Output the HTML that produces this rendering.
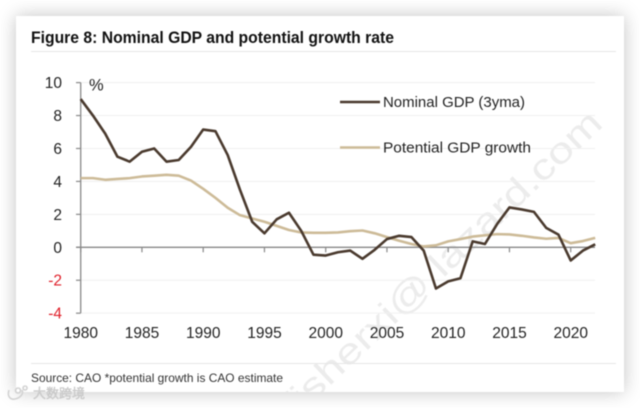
<!DOCTYPE html>
<html lang="en">
<head>
<meta charset="utf-8">
<title>Figure 8: Nominal GDP and potential growth rate</title>
<style>
html,body{margin:0;padding:0;width:640px;height:408px;background:#fff;overflow:hidden}
svg{display:block;font-family:"Liberation Sans","Noto Sans CJK SC",sans-serif;filter:blur(0.4px)}
</style>
</head>
<body>
<svg id="chart" width="640" height="408" viewBox="0 0 640 408" xmlns="http://www.w3.org/2000/svg">
  <defs>
    <filter id="shadow" x="-10%" y="-10%" width="120%" height="120%">
      <feDropShadow dx="0" dy="0" stdDeviation="9" flood-color="#000" flood-opacity="0.24"/>
    </filter>
    <clipPath id="card-clip"><rect x="16" y="16" width="608" height="376"/></clipPath>
  </defs>
  <rect x="16" y="16" width="608" height="376" fill="#fff" filter="url(#shadow)"/>
  <text x="31" y="43" font-size="16.5" font-weight="700" fill="#111" textLength="363" lengthAdjust="spacingAndGlyphs">Figure 8: Nominal GDP and potential growth rate</text>
  <line x1="31" x2="616" y1="51.5" y2="51.5" stroke="#e6e6e6" stroke-width="1"/>
  <g id="watermark" clip-path="url(#card-clip)">
    <text transform="translate(296,418) rotate(-43.5)" font-size="36" fill="#ececec" textLength="425" lengthAdjust="spacingAndGlyphs">fisherxi@ lazard.com</text>
  </g>
  <g id="grid"></g>
  <g id="axes"></g>
  <g id="series"></g>
  <text x="89" y="90.5" font-size="16.5" fill="#222">%</text>
  <g>
    <line x1="340" x2="380" y1="102" y2="102" stroke="#4a3a2e" stroke-width="2.6"/>
    <text x="383" y="107" font-size="15" fill="#222" textLength="142" lengthAdjust="spacingAndGlyphs">Nominal GDP (3yma)</text>
    <line x1="340" x2="380" y1="147.5" y2="147.5" stroke="#cdbb98" stroke-width="2.6"/>
    <text x="383" y="152.5" font-size="15" fill="#222" textLength="148" lengthAdjust="spacingAndGlyphs">Potential GDP growth</text>
  </g>
  <line x1="31" x2="616" y1="363.5" y2="363.5" stroke="#e6e6e6" stroke-width="1"/>
  <text x="31" y="382" font-size="12" fill="#333" textLength="252" lengthAdjust="spacingAndGlyphs">Source: CAO *potential growth is CAO estimate</text>
  <text x="33" y="398" font-size="13" fill="#d2d2d2" stroke="#bbb" stroke-width="0.3">大数跨境</text>
  <path d="M9 390 C7 396 10 400 15 399 C20 398 24 394 22 390 M18 388 a2.5 2.5 0 1 0 .1 0 M25 386 a2 2 0 1 0 .1 0" fill="none" stroke="#d2d2d2" stroke-width="1.6"/>
</svg>
<script>
const years = [1980,1981,1982,1983,1984,1985,1986,1987,1988,1989,1990,1991,1992,1993,1994,1995,1996,1997,1998,1999,2000,2001,2002,2003,2004,2005,2006,2007,2008,2009,2010,2011,2012,2013,2014,2015,2016,2017,2018,2019,2020,2021,2022];
const nominalGdp = [9.0,8.0,6.9,5.5,5.2,5.8,6.0,5.2,5.3,6.1,7.15,7.05,5.6,3.5,1.55,0.85,1.7,2.1,1.0,-0.45,-0.5,-0.3,-0.2,-0.7,-0.15,0.5,0.7,0.62,-0.2,-2.5,-2.07,-1.88,0.36,0.2,1.42,2.42,2.3,2.15,1.18,0.77,-0.8,-0.2,0.18];
const potentialGdp = [4.2,4.2,4.1,4.15,4.2,4.3,4.35,4.4,4.35,4.05,3.55,3.0,2.4,1.95,1.75,1.55,1.3,1.05,0.9,0.88,0.88,0.9,0.98,1.02,0.85,0.62,0.4,0.2,0.05,0.12,0.36,0.5,0.65,0.73,0.8,0.78,0.7,0.6,0.52,0.57,0.25,0.38,0.57];
const yTicks = [10,8,6,4,2,0,-2,-4];
const xTicks = [1980,1985,1990,1995,2000,2005,2010,2015,2020];

const NS = 'http://www.w3.org/2000/svg';
const xScale = function (year) { return 80.7 + (year - 1980) * 12.25; };
const yScale = function (value) { return 247.3 - value * 16.47; };
const gridLayer = document.getElementById('grid');
const axisLayer = document.getElementById('axes');
const seriesLayer = document.getElementById('series');

function svgEl(tag, attrs) {
  const el = document.createElementNS(NS, tag);
  Object.keys(attrs).forEach(function (k) { el.setAttribute(k, attrs[k]); });
  return el;
}

yTicks.forEach(function (t) {
  const y = yScale(t);
  if (t !== 0) {
    const grid = svgEl('line', {x1: 80.7, x2: 595, y1: y, y2: y, stroke: '#f0f0f0', 'stroke-width': 1});
    
    
    gridLayer.appendChild(grid);
  }
  const tick = svgEl('line', {x1: 76, x2: 80.7, y1: y, y2: y, stroke: '#888', 'stroke-width': 1.2});
  
  
  axisLayer.appendChild(tick);
  const label = svgEl('text', {x: 62, y: y + 5.5, 'text-anchor': 'end', 'font-size': 15.5, fill: t < 0 ? '#e0202a' : '#222'});
  label.textContent = String(t);
  
  
  axisLayer.appendChild(label);
});

const yAxis = svgEl('line', {x1: 80.7, x2: 80.7, y1: yScale(10), y2: yScale(-4), stroke: '#888', 'stroke-width': 1.3});


axisLayer.appendChild(yAxis);

const xAxis = svgEl('line', {x1: 76, x2: 595, y1: yScale(0), y2: yScale(0), stroke: '#888', 'stroke-width': 1.3});


axisLayer.appendChild(xAxis);

xTicks.forEach(function (t) {
  const x = xScale(t);
  const tick = svgEl('line', {x1: x, x2: x, y1: yScale(0), y2: yScale(0) + 5, stroke: '#888', 'stroke-width': 1.2});
  
  
  axisLayer.appendChild(tick);
  const label = svgEl('text', {x: x, y: 338, 'text-anchor': 'middle', 'font-size': 15.5, fill: '#222'});
  label.textContent = String(t);
  
  
  axisLayer.appendChild(label);
});

function linePoints(values) {
  return values.map(function (v, i) { return xScale(years[i]).toFixed(2) + ',' + yScale(v).toFixed(2); }).join(' ');
}

const potentialLine = svgEl('polyline', {points: linePoints(potentialGdp), fill: 'none', stroke: '#cdbb98', 'stroke-width': 2.6, 'stroke-linejoin': 'round'});


seriesLayer.appendChild(potentialLine);

const nominalLine = svgEl('polyline', {points: linePoints(nominalGdp), fill: 'none', stroke: '#4a3a2e', 'stroke-width': 2.6, 'stroke-linejoin': 'round'});


seriesLayer.appendChild(nominalLine);
</script>
</body>
</html>
